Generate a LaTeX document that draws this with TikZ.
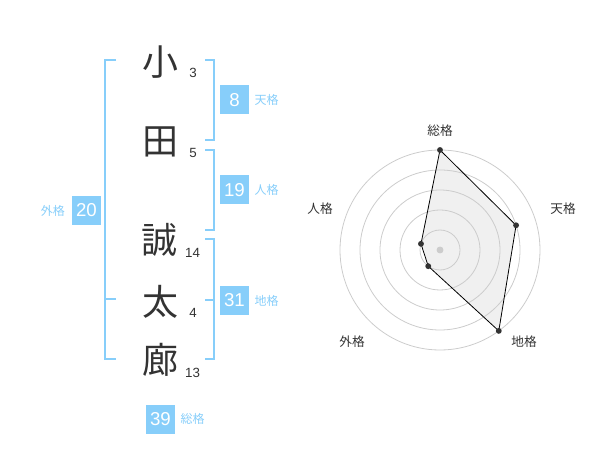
\documentclass[tikz,border=0pt]{standalone}
\usepackage{fontspec}
\setmainfont{Liberation Sans}
\newfontfamily\jp{Noto Sans CJK JP}
\usetikzlibrary{positioning}
\definecolor{celeste}{HTML}{87CEFA}
\definecolor{tinta}{HTML}{333333}
\definecolor{anillo}{HTML}{CCCCCC}
\definecolor{relleno}{HTML}{F0F0F0}
\tikzset{
  kanji/.style={font=\jp\fontsize{27pt}{27pt}\selectfont, text=tinta, inner sep=0pt},
  trazos/.style={font=\fontsize{10pt}{10pt}\selectfont, text=tinta, inner sep=0pt},
  caja/.style={fill=celeste, text=white, font=\fontsize{14pt}{14pt}\selectfont,
    minimum size=21.75pt, inner sep=0pt},
  etiqueta/.style={font=\jp\fontsize{9pt}{9pt}\selectfont, text=celeste, inner sep=0pt},
  llave/.style={draw=celeste, line width=1.5pt},
  eje/.style={font=\jp\fontsize{9.5pt}{9.5pt}\selectfont, text=tinta, inner sep=0pt},
  anillo/.style={draw=anillo, line width=0.6pt},
  punto/.style={fill=tinta},
}
\begin{document}
\begin{tikzpicture}[x=0.75pt, y=-0.75pt]
      \useasboundingbox (0,0) rectangle (600,470);

      % Caracteres del nombre
      \node[kanji] (k1) at (160,62) {小};
      \node[kanji] (k2) at (160,142) {田};
      \node[kanji] (k3) at (159,240) {誠};
      \node[kanji] (k4) at (160,302) {太};
      \node[kanji] (k5) at (160,360) {廊};

      % Numero de trazos
      \node[trazos] (t1) at (193,73) {3};
      \node[trazos] (t2) at (193,153) {5};
      \node[trazos] (t3) at (192.5,253) {14};
      \node[trazos] (t4) at (193,312.5) {4};
      \node[trazos] (t5) at (192.5,373) {13};

      % Llaves
      \draw[llave] (116,60) -- (105,60) -- (105,359) -- (116,359);
      \draw[llave] (105,299) -- (116,299);
      \draw[llave] (205,60) -- (214,60) -- (214,140) -- (205,140);
      \draw[llave] (205,150) -- (214,150) -- (214,230) -- (205,230);
      \draw[llave] (205,239) -- (214,239) -- (214,359) -- (205,359);
      \draw[llave] (205,300) -- (214,300);

      % Cajas con los valores
      \node[caja] (ten) at (234.5,100) {8};
      \node[caja] (jin) at (234.5,190) {19};
      \node[caja] (chi) at (234.5,300.5) {31};
      \node[caja] (gai) at (86.5,210.5) {20};
      \node[caja] (sou) at (160.5,419) {39};

      % Etiquetas de las cajas
      \node[etiqueta, right=3.75pt of ten] (lten) {天格};
      \node[etiqueta, right=3.75pt of jin] (ljin) {人格};
      \node[etiqueta, right=3.75pt of chi] (lchi) {地格};
      \node[etiqueta, left=5pt of gai] (lgai) {外格};
      \node[etiqueta, right=3.75pt of sou] (lsou) {総格};

      % Grafico radar
      \coordinate (c) at (440,250);
      \coordinate (p1) at ([shift={(-90:100)}]c);
      \coordinate (p2) at ([shift={(-18:80)}]c);
      \coordinate (p3) at ([shift={(54:100)}]c);
      \coordinate (p4) at ([shift={(126:20)}]c);
      \coordinate (p5) at ([shift={(198:20)}]c);
      \fill[relleno] (p1) -- (p2) -- (p3) -- (p4) -- (p5) -- cycle;

      \draw[anillo] (c) circle (15pt);
      \draw[anillo] (c) circle (30pt);
      \draw[anillo] (c) circle (45pt);
      \draw[anillo] (c) circle (60pt);
      \draw[anillo] (c) circle (75pt);
      \fill[anillo, fill=anillo] (c) circle (2.25pt);

      \draw[black, line width=0.6pt]
        (p1) -- (p2) -- (p3) -- (p4) -- (p5) -- cycle;
      \fill[punto] (p1) circle (2.2pt);
      \fill[punto] (p2) circle (2.2pt);
      \fill[punto] (p3) circle (2.2pt);
      \fill[punto] (p4) circle (2.2pt);
      \fill[punto] (p5) circle (2.2pt);

      % Etiquetas del radar
      \node[eje] (esou) at (440,131) {総格};
      \node[eje] (eten) at (563,209) {天格};
      \node[eje] (echi) at (524,342) {地格};
      \node[eje] (egai) at (352,342) {外格};
      \node[eje] (ejin) at (320,209) {人格};
    \end{tikzpicture}
\end{document}
